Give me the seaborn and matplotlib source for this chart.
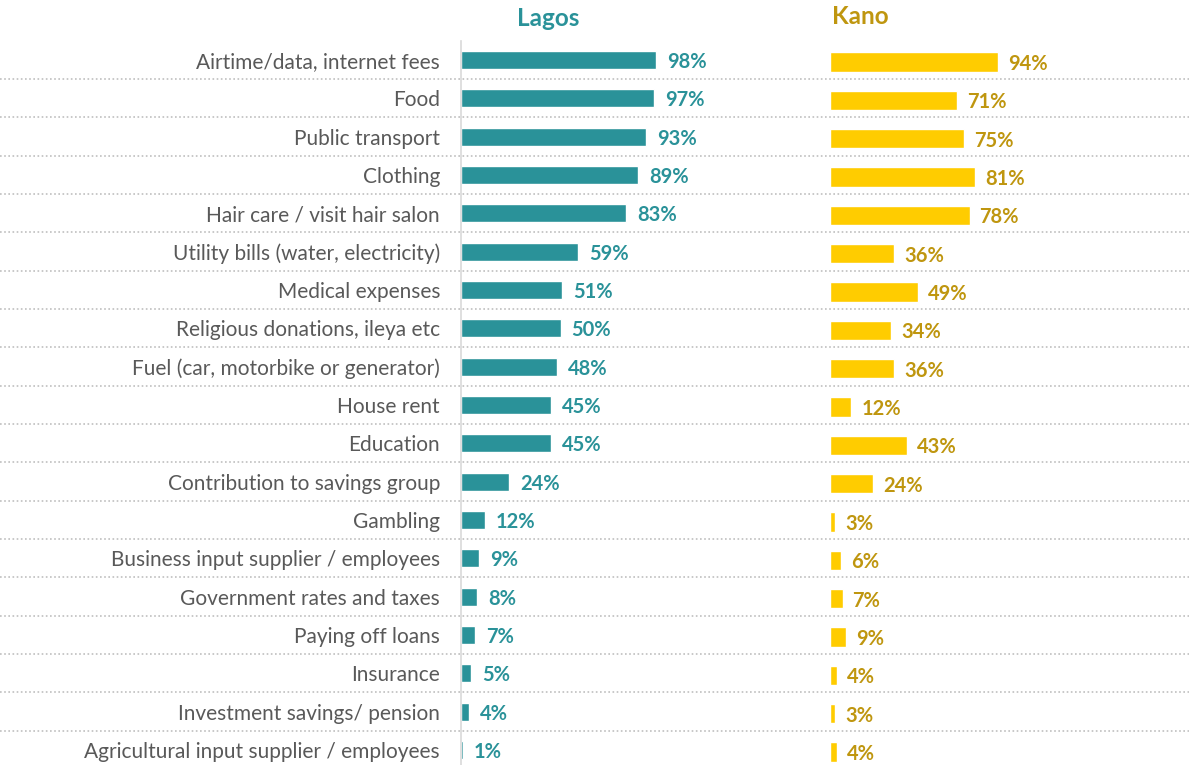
import pandas as pd
import seaborn as sns
import matplotlib.pyplot as plt

# Spending categories, share of respondents in Lagos and Kano
categories = ["Airtime/data, internet fees", "Food", "Public transport", "Clothing",
              "Hair care / visit hair salon", "Utility bills (water, electricity)",
              "Medical expenses", "Religious donations, ileya etc",
              "Fuel (car, motorbike or generator)", "House rent", "Education",
              "Contribution to savings group", "Gambling",
              "Business input supplier / employees", "Government rates and taxes",
              "Paying off loans", "Insurance", "Investment savings/ pension",
              "Agricultural input supplier / employees"]
lagos = [98, 97, 93, 89, 83, 59, 51, 50, 48, 45, 45, 24, 12, 9, 8, 7, 5, 4, 1]
kano = [94, 71, 75, 81, 78, 36, 49, 34, 36, 12, 43, 24, 3, 6, 7, 9, 4, 3, 4]

df = pd.DataFrame({"Category": categories, "Lagos": lagos, "Kano": kano})

sns.set_theme(style="white")
plt.rcParams["font.family"] = ["Lato", "DejaVu Sans"]

teal = "#2A9299"
gold_bar = "#FFCC00"
gold_txt = "#BF960F"
grey_txt = "#595959"

W, H = 1189, 765
fig = plt.figure(figsize=(W / 100, H / 100), dpi=100)

row0, step = 60, 38.33
n = len(categories)
txt_dy = 2 / step  # nudge text down a touch


def ylims(top_px, bot_px):
    return ((bot_px - row0) / step, (top_px - row0) / step)


# background axes for row labels and dotted separators
bg = fig.add_axes([0, 0, 1, 1])
bg.set_xlim(0, W)
bg.set_ylim(*ylims(0, H))
bg.axis("off")
for i in range(n - 1):
    bg.axhline(i + 0.5, color="#BFBFBF", lw=1.2, ls=(0, (1, 1.5)))
for i, c in enumerate(categories):
    bg.text(440, i + txt_dy, c, ha="right", va="center", fontsize=15, color=grey_txt)

# Lagos panel
ax1 = fig.add_axes([461 / W, 0, 340 / W, (H - 41) / H])
sns.barplot(data=df, y="Category", x="Lagos", color=teal, orient="h",
            width=0.47, ax=ax1, saturation=1)
ax1.set_xlim(0, 340 / 1.99)
ax1.set_ylim(*ylims(41, H))
for i, v in enumerate(lagos):
    ax1.annotate(f"{v}%", (v, i + txt_dy), xytext=(11, 0), textcoords="offset pixels",
                 ha="left", va="center", fontsize=14.5, fontweight="bold", color=teal)
ax1.set_xlabel("")
ax1.set_ylabel("")
ax1.set_xticks([])
ax1.set_yticks([])
for s in ["top", "right", "bottom"]:
    ax1.spines[s].set_visible(False)
ax1.spines["left"].set_color("#D9D9D9")
ax1.spines["left"].set_linewidth(1.2)
ax1.patch.set_alpha(0)

# Kano panel
ax2 = fig.add_axes([830 / W, -2 / H, 359 / W, (H - 41) / H])
sns.barplot(data=df, y="Category", x="Kano", color=gold_bar, orient="h",
            width=0.5, ax=ax2, saturation=1)
ax2.set_xlim(0, 359 / 1.79)
ax2.set_ylim(*ylims(41, H))
for i, v in enumerate(kano):
    ax2.annotate(f"{v}%", (v, i + txt_dy), xytext=(10, 0), textcoords="offset pixels",
                 ha="left", va="center", fontsize=14.5, fontweight="bold", color=gold_txt)
ax2.set_xlabel("")
ax2.set_ylabel("")
ax2.set_xticks([])
ax2.set_yticks([])
for s in ax2.spines.values():
    s.set_visible(False)
ax2.patch.set_alpha(0)

fig.text(548 / W, 1 - 19 / H, "Lagos", ha="center", va="center",
         fontsize=17.5, fontweight="bold", color=teal)
fig.text(832 / W, 1 - 17 / H, "Kano", ha="left", va="center",
         fontsize=17.5, fontweight="bold", color=gold_txt)

fig.savefig("out.png", dpi=100)
